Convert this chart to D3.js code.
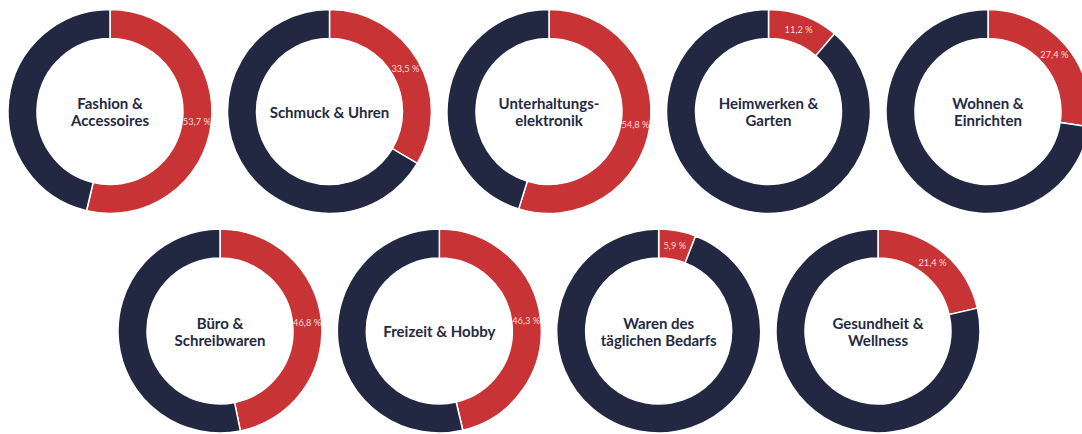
<!DOCTYPE html>
<html>
<head>
<meta charset="utf-8">
<script src="https://cdn.jsdelivr.net/npm/d3@7"></script>
<style>
  html, body { margin: 0; padding: 0; background: #fff; }
  svg { display: block; }
</style>
</head>
<body>
<div id="chart"></div>
<script>
// category names, split into lines as shown in the centre of each ring
const categories = [
  ["Fashion &", "Accessoires"],
  ["Schmuck & Uhren"],
  ["Unterhaltungs-", "elektronik"],
  ["Heimwerken &", "Garten"],
  ["Wohnen &", "Einrichten"],
  ["Büro &", "Schreibwaren"],
  ["Freizeit & Hobby"],
  ["Waren des", "täglichen Bedarfs"],
  ["Gesundheit &", "Wellness"]
];
// share (red part) in percent
const shares = [53.7, 33.5, 54.8, 11.2, 27.4, 46.8, 46.3, 5.9, 21.4];
const shareLabels = ["53,7 %", "33,5 %", "54,8 %", "11,2 %", "27,4 %", "46,8 %", "46,3 %", "5,9 %", "21,4 %"];
// first row holds 5 rings, second row 4
const rowSizes = [5, 4];

const W = 1082, H = 434;
const outerR = 102, innerR = 73;
const red = "#c83336", navy = "#222841";

const svg = d3.select("#chart").append("svg")
  .attr("width", W)
  .attr("height", H);

const xRow1 = d3.scaleLinear().domain([0, 4]).range([110, 988]);
const xRow2 = d3.scaleLinear().domain([0, 3]).range([220, 878]);
const yRow = d3.scaleLinear().domain([0, 1]).range([111.5, 331]);

const pie = d3.pie().sort(null).value(d => d);
const arc = d3.arc().innerRadius(innerR).outerRadius(outerR);
const labelArc = d3.arc().innerRadius((innerR + outerR) / 2).outerRadius((innerR + outerR) / 2);

shares.forEach((s, i) => {
  const row = i < rowSizes[0] ? 0 : 1;
  const col = row === 0 ? i : i - rowSizes[0];
  const cx = row === 0 ? xRow1(col) : xRow2(col);
  const cy = yRow(row);

  const g = svg.append("g").attr("transform", `translate(${cx},${cy})`);
  const slices = pie([s, 100 - s]);

  g.selectAll("path")
    .data(slices)
    .join("path")
    .attr("d", arc)
    .attr("fill", (d, j) => j === 0 ? red : navy)
    .attr("stroke", "#fff")
    .attr("stroke-width", 1.5);

  const c = labelArc.centroid(slices[0]);
  g.append("text")
    .attr("x", c[0])
    .attr("y", c[1])
    .attr("text-anchor", "middle")
    .attr("dominant-baseline", "central")
    .attr("font-family", "Lato, 'Open Sans', sans-serif")
    .attr("font-size", 9.3)
    .attr("fill", "#f8dcdc")
    .text(shareLabels[i]);

  const lines = categories[i];
  const lh = 17;
  g.append("text")
    .attr("text-anchor", "middle")
    .attr("font-family", "Lato, 'Open Sans', sans-serif")
    .attr("font-weight", 700)
    .attr("font-size", 15)
    .attr("fill", "#252a44")
    .selectAll("tspan")
    .data(lines)
    .join("tspan")
    .attr("x", 0)
    .attr("y", (d, k) => (k - (lines.length - 1) / 2) * lh)
    .attr("dominant-baseline", "central")
    .text(d => d);
});
</script>
</body>
</html>
